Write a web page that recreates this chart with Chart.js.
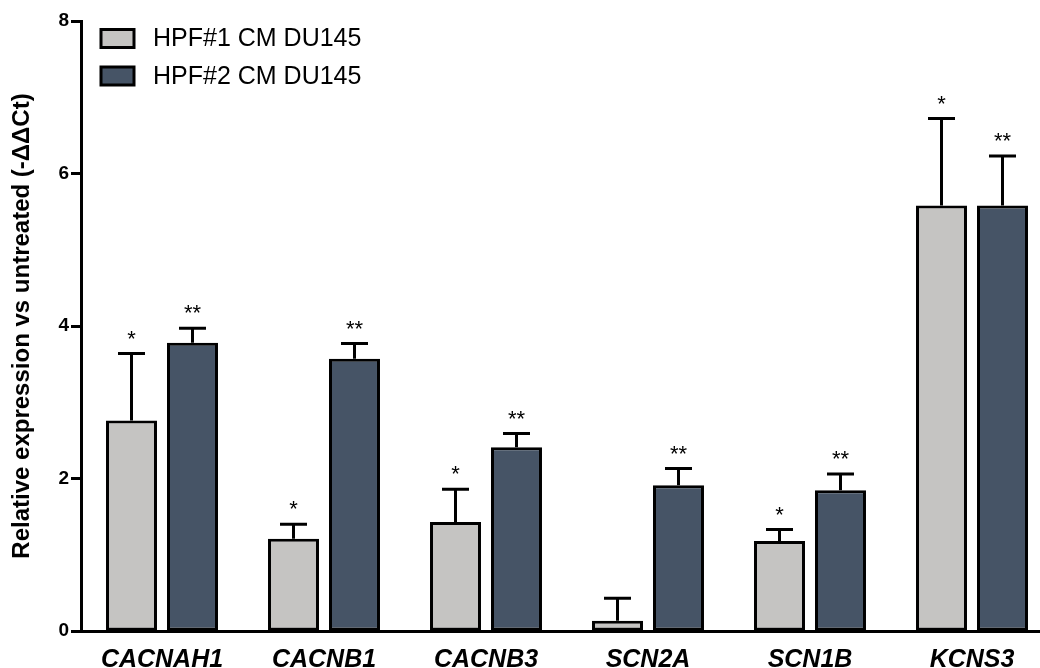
<!DOCTYPE html>
<html>
<head>
<meta charset="utf-8">
<script src="https://cdn.jsdelivr.net/npm/chart.js@4"></script>
<style>
  html, body { margin: 0; padding: 0; background: #fff; overflow: hidden; }
  #wrap { width: 1060px; height: 668px; position: relative; }
</style>
</head>
<body>
<div id="wrap"><canvas id="qpcrChart"></canvas></div>
<script>
/* =========================
   DATA
========================= */
const genes = ["CACNAH1", "CACNB1", "CACNB3", "SCN2A", "SCN1B", "KCNS3"];
const seriesNames = ["HPF#1 CM DU145", "HPF#2 CM DU145"];

const hpf1Values = [2.76, 1.21, 1.43, 0.135, 1.18, 5.58];
const hpf1Errors = [0.88, 0.19, 0.43, 0.295, 0.15, 1.14];
const hpf1Stars  = ["*", "*", "*", "", "*", "*"];

const hpf2Values = [3.78, 3.57, 2.41, 1.91, 1.845, 5.58];
const hpf2Errors = [0.19, 0.20, 0.18, 0.22, 0.215, 0.65];
const hpf2Stars  = ["**", "**", "**", "**", "**", "**"];

const yTicks = [0, 2, 4, 6, 8];

const colors = ["#c5c4c2", "#465466"];

const FONT = '"Liberation Sans", Arial, sans-serif';

/* =========================
   ERROR BARS + STARS
========================= */
const errorBarPlugin = {
  id: 'errorBars',
  afterDatasetsDraw(chart) {
    const ctx = chart.ctx;
    const y = chart.scales.y;
    chart.data.datasets.forEach((ds, di) => {
      const meta = chart.getDatasetMeta(di);
      meta.data.forEach((bar, i) => {
        const top = y.getPixelForValue(ds.data[i] + ds.errors[i]);
        ctx.save();
        ctx.strokeStyle = '#000';
        ctx.lineWidth = 3;
        ctx.beginPath();
        ctx.moveTo(bar.x, bar.y);
        ctx.lineTo(bar.x, top);
        ctx.moveTo(bar.x - 13.5, top);
        ctx.lineTo(bar.x + 13.5, top);
        ctx.stroke();

        if (ds.stars[i]) {
          ctx.fillStyle = '#000';
          ctx.font = '22px ' + FONT;
          ctx.textAlign = 'center';
          ctx.textBaseline = 'middle';
          ctx.fillText(ds.stars[i], bar.x, top - 14);
        }
        ctx.restore();
      });
    });
  }
};

/* =========================
   LEGEND (inside plot)
========================= */
const legendPlugin = {
  id: 'boxLegend',
  afterDraw(chart) {
    const ctx = chart.ctx;
    chart.data.datasets.forEach((ds, di) => {
      const bx = 101, by = 29.5 + di * 37.5;
      ctx.save();
      ctx.fillStyle = ds.backgroundColor;
      ctx.fillRect(bx, by, 33, 18);
      ctx.strokeStyle = '#000';
      ctx.lineWidth = 3;
      ctx.strokeRect(bx, by, 33, 18);
      ctx.fillStyle = '#000';
      ctx.font = '25px ' + FONT;
      ctx.textAlign = 'left';
      ctx.textBaseline = 'middle';
      ctx.fillText(ds.label, 153, by + 10);
      ctx.restore();
    });
  }
};

/* =========================
   CHART
========================= */
const ctx = document.getElementById('qpcrChart').getContext('2d');

const chart = new Chart(ctx, {
  type: 'bar',
  data: {
    labels: genes,
    datasets: [
      {
        label: seriesNames[0],
        data: hpf1Values,
        errors: hpf1Errors,
        stars: hpf1Stars,
        backgroundColor: colors[0],
        borderColor: '#000',
        borderWidth: 3,
        borderSkipped: false
      },
      {
        label: seriesNames[1],
        data: hpf2Values,
        errors: hpf2Errors,
        stars: hpf2Stars,
        backgroundColor: colors[1],
        borderColor: '#000',
        borderWidth: 3,
        borderSkipped: false
      }
    ]
  },
  options: {
    responsive: true,
    maintainAspectRatio: false,
    animation: false,
    categoryPercentage: 0.753,
    barPercentage: 0.836,
    layout: {
      padding: { top: 21, right: 7, left: 8, bottom: 0 }
    },
    plugins: {
      legend: { display: false },
      tooltip: { enabled: false }
    },
    scales: {

      /* X AXIS */
      x: {
        grid: { display: false, drawTicks: false },
        border: { color: '#000', width: 3 },
        ticks: {
          color: '#000',
          padding: 14,
          maxRotation: 0,
          font: { family: FONT, size: 25, weight: 'bold', style: 'italic' }
        },
        afterFit: (scale) => { scale.height = 37; }
      },

      /* Y AXIS */
      y: {
        min: 0,
        max: 8,
        afterBuildTicks: (scale) => {
          scale.ticks = yTicks.map(v => ({ value: v }));
        },
        grid: {
          drawOnChartArea: false,
          drawTicks: true,
          tickLength: 10,
          tickWidth: 3,
          tickColor: '#000'
        },
        border: { color: '#000', width: 3 },
        ticks: {
          color: '#000',
          padding: 2,
          font: { family: FONT, size: 19, weight: 'bold' }
        },
        title: {
          display: true,
          text: 'Relative expression vs untreated (-ΔΔCt)',
          color: '#000',
          padding: { top: 0, bottom: 10 },
          font: { family: FONT, size: 24, weight: 'bold' }
        },
        afterFit: (scale) => { scale.width = 73; }
      }
    }
  },
  plugins: [errorBarPlugin, legendPlugin]
});
</script>
</body>
</html>
